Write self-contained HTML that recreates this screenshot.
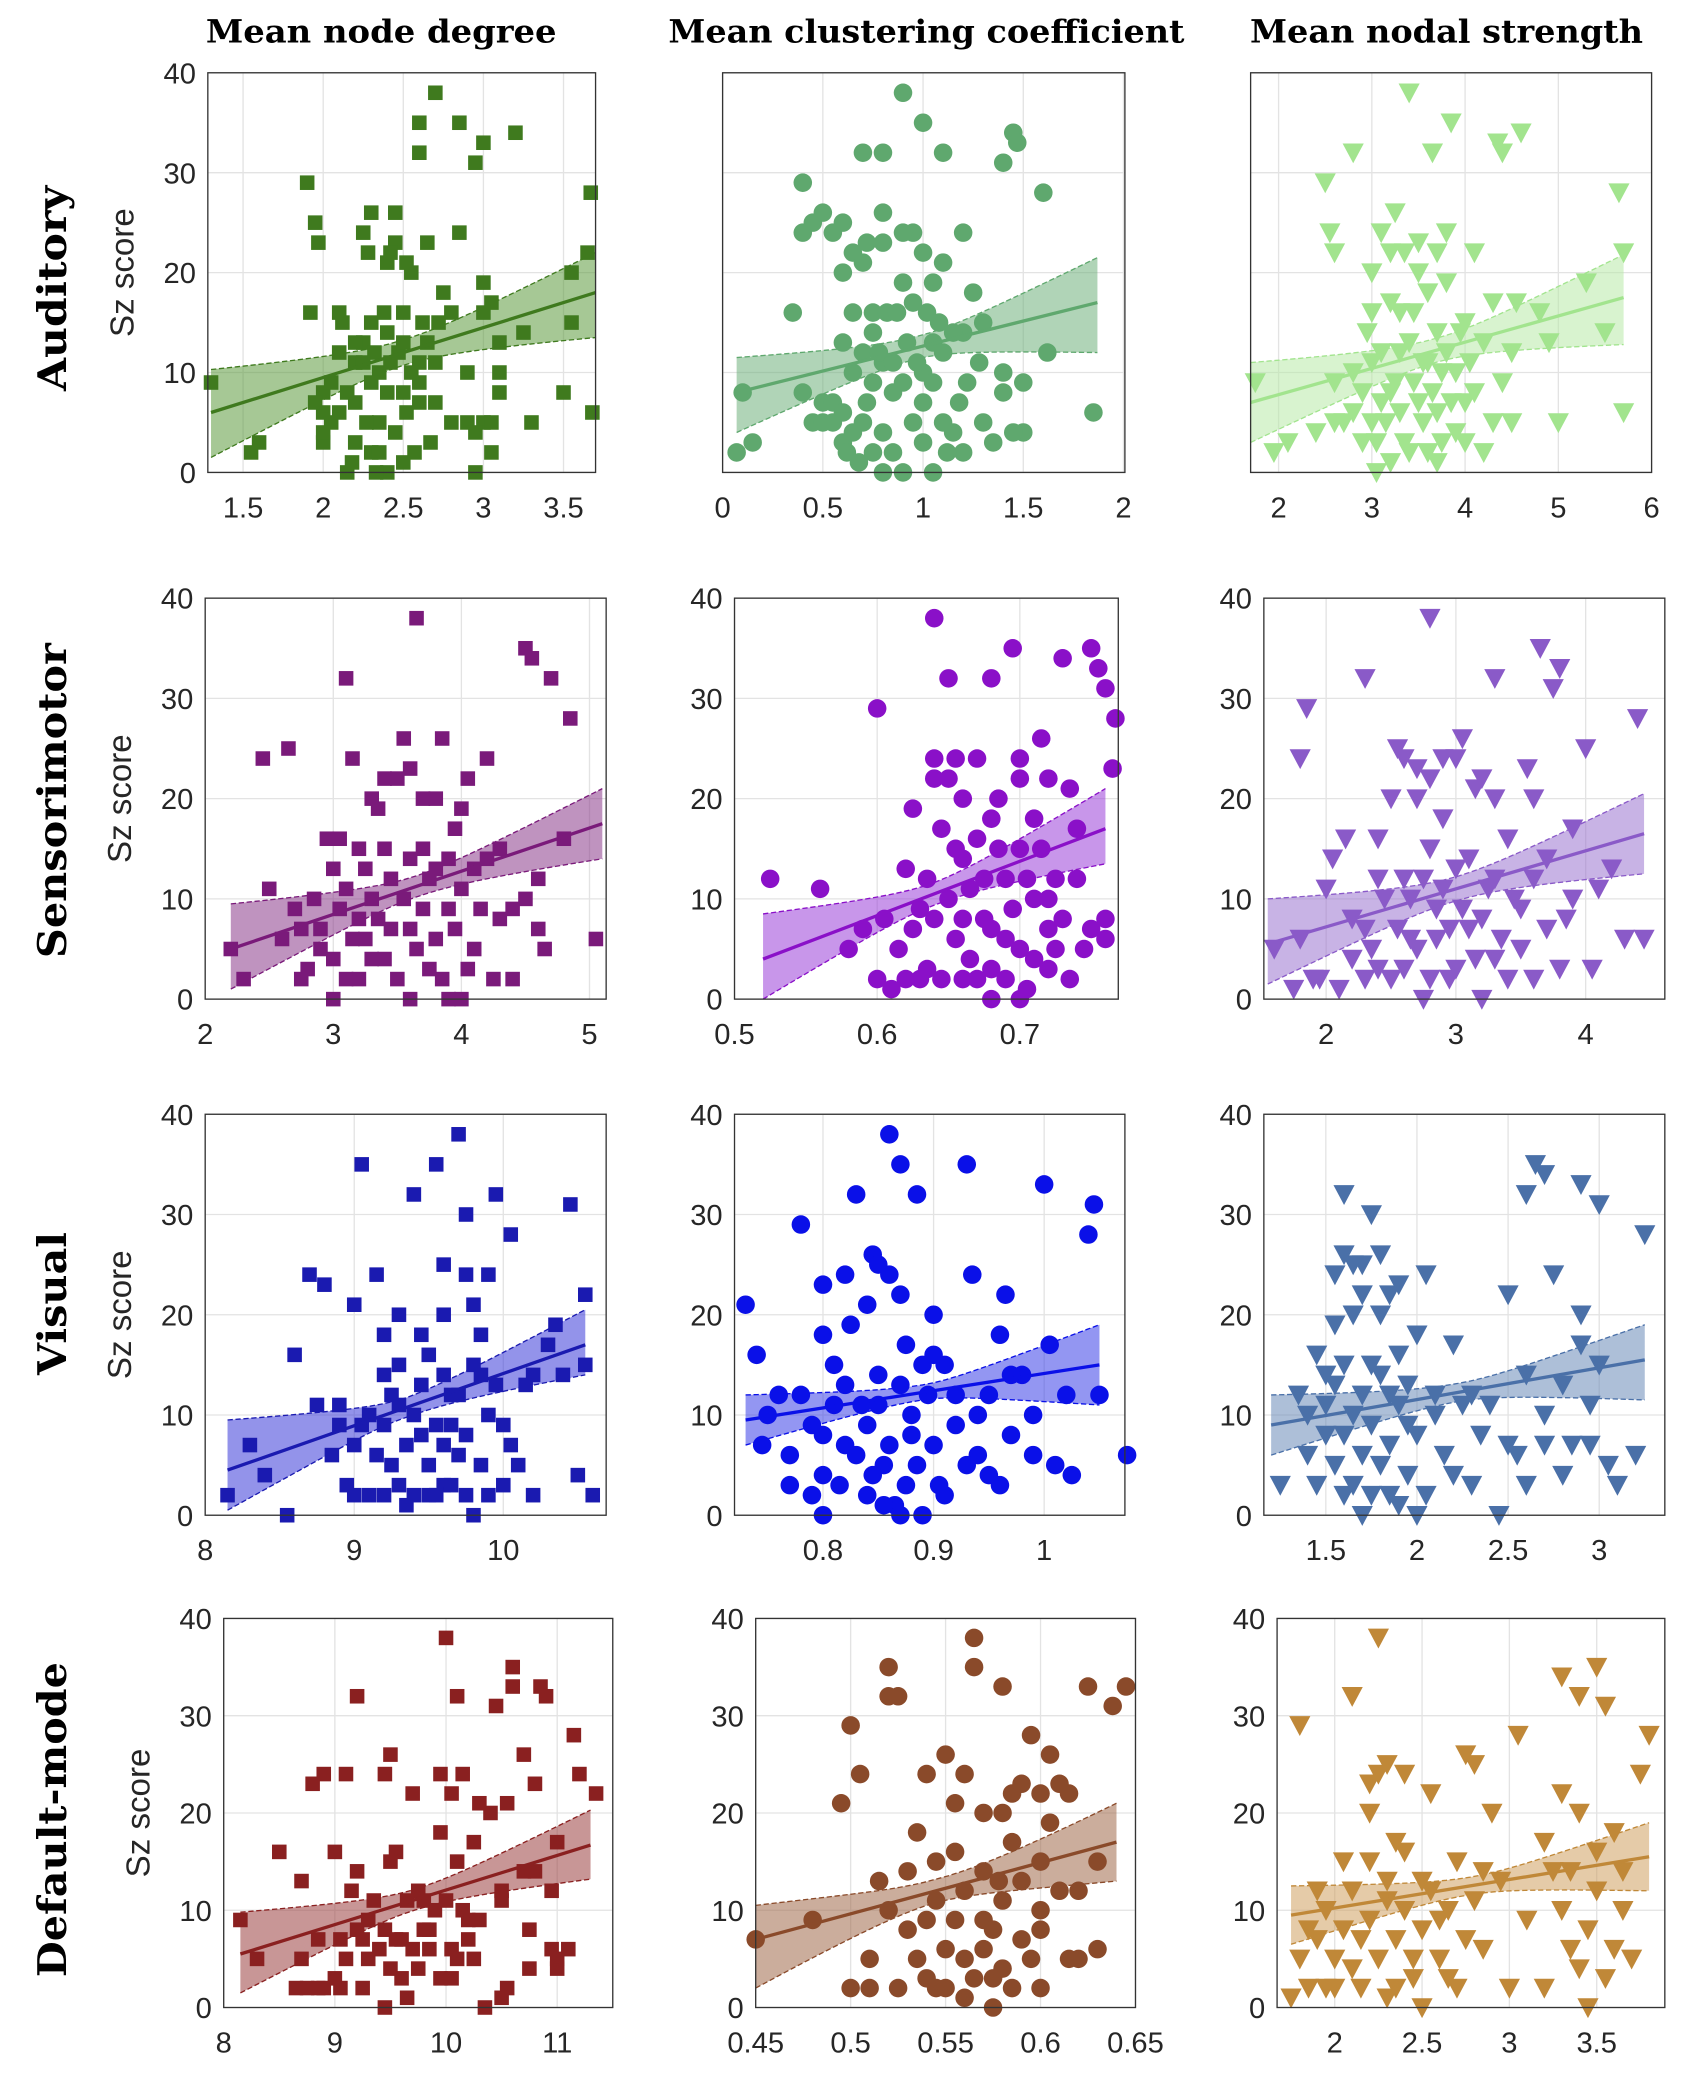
<!DOCTYPE html>
<html><head><meta charset="utf-8"><style>
html,body{margin:0;padding:0;background:#fff;}
svg{display:block;}
.tk{font-family:"Liberation Sans",sans-serif;font-size:22px;fill:#262626;}
.ct{font-family:"DejaVu Serif",serif;font-weight:bold;font-size:24px;fill:#000;}
.rl{font-family:"DejaVu Serif",serif;font-weight:bold;font-size:30px;fill:#000;}
.yl{font-family:"Liberation Sans",sans-serif;font-size:25px;fill:#262626;}
</style></head><body>
<svg id="fig" width="1694" height="2075" viewBox="0 0 1280 1568" xmlns="http://www.w3.org/2000/svg">
<text class="ct" x="288" y="32" text-anchor="middle" textLength="265" lengthAdjust="spacingAndGlyphs">Mean node degree</text>
<text class="ct" x="700" y="32" text-anchor="middle" textLength="390" lengthAdjust="spacingAndGlyphs">Mean clustering coefficient</text>
<text class="ct" x="1093" y="32" text-anchor="middle" textLength="297" lengthAdjust="spacingAndGlyphs">Mean nodal strength</text>
<text class="rl" transform="translate(50,218) rotate(-90)" text-anchor="middle" textLength="155" lengthAdjust="spacingAndGlyphs">Auditory</text>
<text class="rl" transform="translate(50,605) rotate(-90)" text-anchor="middle" textLength="238" lengthAdjust="spacingAndGlyphs">Sensorimotor</text>
<text class="rl" transform="translate(50,985) rotate(-90)" text-anchor="middle" textLength="108" lengthAdjust="spacingAndGlyphs">Visual</text>
<text class="rl" transform="translate(50,1375) rotate(-90)" text-anchor="middle" textLength="238" lengthAdjust="spacingAndGlyphs">Default-mode</text>
</svg>
<script>
// ---- data ----
const r1c1 = [[1.3,9],[1.55,2],[1.6,3],[1.9,29],[1.92,16],[1.95,25],[1.97,23],[2,3],[2,6],[2,8],[2.05,5],[2.1,16],[2.1,12],[2.15,0],[2.2,11],[2.2,7],[2.25,24],[2.25,13],[2.3,2],[2.3,26],[2.3,15],[2.35,10],[2.35,5],[2.4,0],[2.4,14],[2.4,21],[2.45,23],[2.45,26],[2.5,16],[2.5,8],[2.5,1],[2.55,20],[2.6,35],[2.6,32],[2.6,9],[2.65,13],[2.7,38],[2.7,7],[2.75,18],[2.8,16],[2.85,35],[2.85,24],[2.95,0],[2.95,31],[3,33],[3,5],[3,19],[3.05,17],[3.05,2],[3.1,13],[3.2,34],[3.25,14],[3.3,5],[3.5,8],[3.55,15],[3.55,20],[3.65,22],[3.67,28],[3.68,6],[2.2,3],[2.6,11],[2.0,4],[2.9,10],[3.1,10],[1.95,7],[2.05,9],[2.1,6],[2.15,8],[2.2,13],[2.25,11],[2.27,5],[2.3,9],[2.32,12],[2.35,2],[2.38,16],[2.4,8],[2.42,11],[2.45,4],[2.47,12],[2.5,13],[2.52,6],[2.55,10],[2.57,2],[2.6,7],[2.62,15],[2.65,23],[2.67,3],[2.7,11],[2.72,15],[2.8,5],[2.9,5],[2.95,4],[3.0,16],[3.05,5],[3.1,8],[2.12,15],[2.28,22],[2.42,22],[2.52,21],[2.18,1],[2.33,0]];
const r1c2 = [[0.07,2],[0.15,3],[0.1,8],[0.35,16],[0.4,24],[0.4,29],[0.45,25],[0.5,26],[0.5,7],[0.55,24],[0.6,3],[0.6,20],[0.6,13],[0.65,22],[0.65,10],[0.7,21],[0.7,32],[0.7,5],[0.75,14],[0.75,16],[0.8,0],[0.8,23],[0.8,32],[0.8,11],[0.85,2],[0.85,8],[0.9,38],[0.9,19],[0.9,0],[0.95,24],[0.95,17],[1.0,3],[1.0,35],[1.0,10],[1.05,13],[1.05,0],[1.1,32],[1.1,5],[1.15,4],[1.2,24],[1.2,14],[1.25,18],[1.3,15],[1.3,5],[1.4,31],[1.4,10],[1.45,34],[1.47,33],[1.5,4],[1.5,9],[1.6,28],[1.62,12],[1.85,6],[1.2,2],[0.55,5],[1.0,22],[0.65,16],[0.4,8],[0.45,5],[0.5,5],[0.55,7],[0.6,6],[0.62,2],[0.65,4],[0.68,1],[0.7,12],[0.72,7],[0.75,2],[0.75,9],[0.78,12],[0.8,4],[0.82,16],[0.85,11],[0.87,16],[0.9,9],[0.92,13],[0.95,5],[0.97,11],[1.0,7],[1.02,16],[1.05,9],[1.08,15],[1.1,12],[1.12,2],[1.15,14],[1.18,7],[1.22,9],[1.28,11],[1.35,3],[1.4,8],[1.45,4],[0.72,23],[0.8,26],[0.9,24],[1.05,19],[1.1,21],[0.6,25]];
const r1c3 = [[1.75,9],[1.95,2],[2.1,3],[2.5,29],[2.55,24],[2.6,22],[2.7,5],[2.8,32],[2.8,10],[2.9,3],[2.95,14],[3.0,20],[3.05,0],[3.1,24],[3.1,7],[3.2,17],[3.25,26],[3.3,12],[3.35,22],[3.4,38],[3.4,2],[3.45,9],[3.5,23],[3.55,5],[3.6,18],[3.65,32],[3.7,14],[3.7,1],[3.75,10],[3.8,24],[3.85,35],[3.9,4],[4.0,7],[4.1,22],[4.2,13],[4.2,2],[4.3,17],[4.35,33],[4.4,32],[4.5,5],[4.55,17],[4.6,34],[4.8,16],[4.9,13],[5.0,5],[5.3,19],[5.5,14],[5.65,28],[5.7,22],[5.7,6],[3.2,8],[3.6,11],[3.0,5],[4.0,15],[2.4,4],[2.6,5],[2.8,6],[2.9,8],[3.0,11],[3.05,3],[3.1,12],[3.15,5],[3.2,1],[3.25,9],[3.3,6],[3.35,3],[3.4,13],[3.45,16],[3.5,7],[3.55,11],[3.6,2],[3.65,8],[3.7,6],[3.75,3],[3.8,12],[3.85,7],[3.9,10],[3.95,14],[4.0,3],[4.05,11],[4.1,8],[4.3,5],[4.4,9],[4.5,12],[3.3,16],[3.5,20],[3.7,22],[3.0,16],[3.8,19],[2.6,9],[3.2,22]];
const r2c1 = [[2.2,5],[2.3,2],[2.45,24],[2.5,11],[2.65,25],[2.7,9],[2.75,7],[2.8,3],[2.9,5],[2.95,16],[3.0,13],[3.05,9],[3.1,32],[3.1,2],[3.15,24],[3.2,15],[3.25,6],[3.3,10],[3.35,19],[3.4,4],[3.45,12],[3.5,22],[3.55,26],[3.6,7],[3.6,0],[3.65,38],[3.7,15],[3.75,3],[3.8,13],[3.85,26],[3.9,9],[3.9,0],[3.95,17],[4.0,11],[4.05,22],[4.1,5],[4.2,14],[4.25,2],[4.3,8],[4.4,9],[4.5,35],[4.55,34],[4.6,12],[4.65,5],[4.7,32],[4.8,16],[4.85,28],[5.05,6],[3.3,20],[3.7,20],[3.0,0],[4.0,0],[2.6,6],[2.75,2],[2.85,10],[2.9,7],[3.0,4],[3.05,16],[3.1,11],[3.15,6],[3.2,2],[3.25,13],[3.3,4],[3.35,8],[3.4,15],[3.45,7],[3.5,2],[3.55,10],[3.6,14],[3.65,5],[3.7,9],[3.75,12],[3.8,6],[3.85,2],[3.9,14],[3.95,7],[4.0,19],[4.05,3],[4.1,13],[4.15,9],[4.3,15],[4.4,2],[4.5,10],[4.6,7],[3.4,22],[3.6,23],[3.8,20],[4.2,24],[3.2,8]];
const r2c2 = [[0.525,12],[0.56,11],[0.58,5],[0.6,29],[0.605,8],[0.61,1],[0.62,13],[0.625,19],[0.63,9],[0.635,3],[0.64,24],[0.64,38],[0.645,17],[0.65,32],[0.65,22],[0.655,6],[0.66,2],[0.66,14],[0.665,11],[0.67,16],[0.67,24],[0.675,8],[0.68,32],[0.68,3],[0.685,20],[0.69,12],[0.69,6],[0.695,35],[0.7,15],[0.7,22],[0.705,1],[0.71,10],[0.71,18],[0.715,26],[0.72,7],[0.72,3],[0.725,12],[0.73,34],[0.735,21],[0.74,17],[0.745,5],[0.75,35],[0.755,33],[0.76,31],[0.76,8],[0.765,23],[0.767,28],[0.76,6],[0.62,2],[0.68,0],[0.59,7],[0.6,2],[0.615,5],[0.625,7],[0.63,2],[0.635,12],[0.64,8],[0.645,2],[0.65,10],[0.655,15],[0.66,8],[0.665,4],[0.67,2],[0.675,12],[0.68,7],[0.685,15],[0.69,2],[0.695,9],[0.7,5],[0.705,12],[0.71,4],[0.715,15],[0.72,10],[0.725,5],[0.73,8],[0.735,2],[0.74,12],[0.75,7],[0.64,22],[0.66,20],[0.7,24],[0.72,22],[0.68,18],[0.655,24],[0.7,0]];
const r2c3 = [[1.6,5],[1.75,1],[1.8,6],[1.8,24],[1.85,29],[1.95,2],[2.0,11],[2.05,14],[2.15,16],[2.2,4],[2.3,7],[2.3,32],[2.4,3],[2.45,10],[2.5,20],[2.55,25],[2.6,12],[2.65,6],[2.7,23],[2.75,0],[2.8,38],[2.8,15],[2.85,9],[2.9,18],[2.95,2],[3.0,13],[3.05,26],[3.1,7],[3.15,21],[3.2,0],[3.25,11],[3.3,4],[3.3,32],[3.4,16],[3.5,9],[3.55,23],[3.6,2],[3.65,35],[3.7,14],[3.75,31],[3.8,33],[3.85,8],[3.9,17],[4.0,25],[4.05,3],[4.1,11],[4.2,13],[4.3,6],[4.4,28],[4.45,6],[2.9,24],[3.3,20],[1.9,2],[2.1,1],[2.2,8],[2.3,2],[2.35,5],[2.4,12],[2.5,2],[2.55,7],[2.6,3],[2.65,10],[2.7,5],[2.75,12],[2.8,2],[2.85,6],[2.9,11],[2.95,7],[3.0,3],[3.05,9],[3.1,14],[3.15,4],[3.2,8],[3.3,12],[3.35,6],[3.4,2],[3.45,10],[3.5,5],[3.6,12],[3.7,7],[3.8,3],[3.9,10],[2.6,24],[2.7,20],[2.8,22],[3.0,24],[3.2,22],[3.6,20],[2.4,16]];
const r3c1 = [[8.15,2],[8.3,7],[8.4,4],[8.55,0],[8.6,16],[8.7,24],[8.75,11],[8.8,23],[8.85,6],[8.9,9],[8.95,3],[9.0,21],[9.05,35],[9.1,10],[9.1,2],[9.15,24],[9.2,14],[9.25,5],[9.3,20],[9.3,11],[9.35,1],[9.4,32],[9.45,8],[9.5,16],[9.5,2],[9.55,35],[9.6,25],[9.65,12],[9.7,38],[9.7,6],[9.75,30],[9.8,21],[9.8,0],[9.85,14],[9.9,24],[9.95,32],[10.0,9],[10.05,28],[10.1,5],[10.15,13],[10.2,2],[10.3,17],[10.4,14],[10.45,31],[10.5,4],[10.55,22],[10.55,15],[10.6,2],[9.2,18],[9.6,3],[8.9,11],[9.0,7],[9.0,2],[9.05,9],[9.15,6],[9.2,2],[9.2,9],[9.25,12],[9.3,3],[9.35,7],[9.4,10],[9.4,2],[9.45,13],[9.5,5],[9.55,9],[9.55,2],[9.6,7],[9.6,14],[9.65,3],[9.65,9],[9.7,12],[9.75,2],[9.75,8],[9.8,15],[9.85,5],[9.9,10],[9.9,2],[9.95,13],[10.0,3],[10.05,7],[9.3,15],[9.45,18],[9.6,20],[9.75,24],[9.85,18],[10.2,14],[10.35,19]];
const r3c2 = [[0.73,21],[0.74,16],[0.745,7],[0.76,12],[0.77,3],[0.78,29],[0.79,9],[0.8,23],[0.8,4],[0.81,15],[0.82,7],[0.825,19],[0.83,32],[0.835,11],[0.84,2],[0.845,26],[0.85,14],[0.855,5],[0.86,24],[0.86,38],[0.865,1],[0.87,35],[0.875,17],[0.88,8],[0.885,32],[0.89,0],[0.895,12],[0.9,20],[0.905,3],[0.91,15],[0.92,9],[0.93,35],[0.935,24],[0.94,6],[0.95,12],[0.96,3],[0.965,22],[0.97,8],[0.98,14],[0.99,10],[1.0,33],[1.005,17],[1.01,5],[1.02,12],[1.025,4],[1.04,28],[1.045,31],[1.05,12],[1.075,6],[0.96,18],[0.75,10],[0.77,6],[0.78,12],[0.79,2],[0.8,8],[0.81,11],[0.815,3],[0.82,13],[0.83,6],[0.84,9],[0.845,4],[0.85,11],[0.855,1],[0.86,7],[0.87,13],[0.875,3],[0.88,10],[0.885,5],[0.89,15],[0.9,7],[0.91,2],[0.92,12],[0.93,5],[0.94,10],[0.95,4],[0.97,14],[0.99,6],[0.8,18],[0.82,24],[0.84,21],[0.85,25],[0.87,22],[0.9,16],[0.8,0],[0.87,0]];
const r3c3 = [[1.25,3],[1.35,12],[1.4,6],[1.45,16],[1.5,8],[1.55,19],[1.6,32],[1.6,2],[1.65,25],[1.65,10],[1.7,22],[1.7,0],[1.75,15],[1.8,26],[1.8,5],[1.85,12],[1.9,23],[1.9,1],[1.95,9],[2.0,18],[2.0,0],[2.05,24],[2.1,12],[2.15,6],[2.2,17],[2.25,11],[2.3,3],[2.35,8],[2.4,11],[2.45,0],[2.5,22],[2.55,6],[2.6,14],[2.6,32],[2.65,35],[2.7,34],[2.7,10],[2.75,24],[2.8,13],[2.85,7],[2.9,33],[2.9,17],[2.95,11],[3.0,31],[3.05,5],[3.1,3],[3.25,28],[3.2,6],[1.5,14],[1.75,30],[2.9,20],[1.4,10],[1.45,3],[1.5,11],[1.55,5],[1.55,13],[1.6,8],[1.6,15],[1.65,3],[1.65,20],[1.7,12],[1.7,6],[1.75,9],[1.75,2],[1.8,14],[1.8,20],[1.85,7],[1.85,2],[1.9,11],[1.9,16],[1.95,4],[1.95,13],[2.0,8],[2.05,2],[2.1,10],[2.2,4],[2.3,12],[2.5,7],[2.6,3],[2.7,7],[2.8,4],[2.95,7],[3.0,15],[1.55,24],[1.7,25],[1.85,22],[1.6,26]];
const r4c1 = [[8.15,9],[8.3,5],[8.5,16],[8.65,2],[8.7,13],[8.8,23],[8.85,7],[8.9,24],[8.9,2],[9.0,16],[9.05,7],[9.1,5],[9.1,24],[9.2,32],[9.2,14],[9.25,2],[9.3,9],[9.35,11],[9.45,24],[9.45,0],[9.5,26],[9.55,7],[9.55,16],[9.6,3],[9.7,22],[9.75,12],[9.8,8],[9.85,6],[9.95,24],[9.95,18],[10.0,38],[10.05,3],[10.05,22],[10.1,15],[10.1,32],[10.15,24],[10.2,9],[10.25,17],[10.3,21],[10.35,0],[10.4,20],[10.45,31],[10.5,1],[10.5,11],[10.55,21],[10.6,35],[10.6,33],[10.7,26],[10.75,4],[10.8,23],[10.85,33],[10.9,32],[10.95,12],[11.0,5],[11.0,17],[11.1,6],[11.15,28],[11.2,24],[11.35,22],[9.65,1],[8.7,5],[8.75,2],[8.85,2],[9.0,3],[9.05,2],[9.15,12],[9.2,8],[9.25,7],[9.3,5],[9.4,6],[9.45,8],[9.5,15],[9.5,4],[9.6,7],[9.65,11],[9.7,6],[9.75,4],[9.8,11],[9.85,8],[9.9,10],[9.95,3],[10.0,11],[10.05,6],[10.1,5],[10.15,10],[10.2,7],[10.25,5],[10.3,9],[10.5,12],[10.55,2],[10.75,8],[10.8,14],[10.95,6],[11.0,4],[10.7,14]];
const r4c2 = [[0.45,7],[0.48,9],[0.495,21],[0.5,29],[0.505,24],[0.51,2],[0.515,13],[0.52,35],[0.52,32],[0.525,32],[0.53,8],[0.535,18],[0.54,3],[0.54,24],[0.545,11],[0.55,26],[0.55,6],[0.555,16],[0.56,1],[0.56,24],[0.565,38],[0.565,35],[0.57,9],[0.57,20],[0.575,3],[0.578,13],[0.58,33],[0.585,22],[0.59,7],[0.595,28],[0.6,10],[0.6,15],[0.605,26],[0.61,23],[0.615,5],[0.62,12],[0.625,33],[0.63,6],[0.638,31],[0.645,33],[0.575,0],[0.545,2],[0.6,2],[0.585,17],[0.5,2],[0.51,5],[0.52,10],[0.525,2],[0.53,14],[0.535,5],[0.54,9],[0.545,15],[0.55,2],[0.555,9],[0.56,12],[0.56,5],[0.565,3],[0.57,14],[0.57,6],[0.575,8],[0.58,4],[0.58,11],[0.585,2],[0.59,13],[0.595,5],[0.6,8],[0.605,19],[0.61,12],[0.615,22],[0.62,5],[0.63,15],[0.58,20],[0.555,21],[0.59,23],[0.6,22]];
const r4c3 = [[1.75,1],[1.8,29],[1.85,8],[1.9,12],[1.95,2],[2.0,5],[2.05,15],[2.1,32],[2.15,7],[2.2,20],[2.25,24],[2.25,38],[2.3,11],[2.3,1],[2.35,17],[2.4,24],[2.45,5],[2.5,13],[2.5,0],[2.55,22],[2.6,9],[2.65,3],[2.7,15],[2.75,26],[2.8,11],[2.85,6],[2.9,20],[2.95,13],[3.0,2],[3.05,28],[3.1,9],[3.2,17],[3.25,14],[3.3,34],[3.35,6],[3.4,32],[3.45,0],[3.5,35],[3.55,31],[3.6,18],[3.65,10],[3.7,5],[3.75,24],[3.8,28],[3.4,20],[2.8,25],[1.8,5],[1.85,2],[1.9,7],[1.95,10],[2.0,2],[2.05,8],[2.1,4],[2.1,12],[2.15,2],[2.2,9],[2.2,15],[2.25,5],[2.3,13],[2.35,7],[2.35,2],[2.4,10],[2.4,16],[2.45,3],[2.5,8],[2.55,12],[2.6,5],[2.65,10],[2.7,2],[2.75,7],[2.85,14],[3.2,2],[3.3,10],[3.35,14],[3.4,4],[3.45,8],[3.5,12],[3.55,3],[3.6,6],[3.65,14],[2.3,25],[2.2,23],[3.3,22],[3.5,16]];
// fit: [x0, x1, line y0, line y1, lower y0, upper y0, lower y1, upper y1]
const fit_r1c1 = [1.3,3.7,6,18,1.5,10.3,13.5,22];
const fit_r1c2 = [0.07,1.87,8,17,4,11.5,12,21.5];
const fit_r1c3 = [1.7,5.7,7,17.5,3,11,12.8,21.8];
const fit_r2c1 = [2.2,5.1,5,17.5,1,9.5,14,21];
const fit_r2c2 = [0.52,0.76,4,17,0,8.5,13.5,21];
const fit_r2c3 = [1.55,4.45,5.5,16.5,1.5,10,12.5,20.5];
const fit_r3c1 = [8.15,10.55,4.5,17,0.5,9.5,14,20.5];
const fit_r3c2 = [0.73,1.05,9.5,15,7,12,11,19];
const fit_r3c3 = [1.2,3.25,9,15.5,6,12,11.5,19];
const fit_r4c1 = [8.15,11.3,5.5,16.7,1.5,9.8,13.2,20.3];
const fit_r4c2 = [0.45,0.64,7,17,2,10.5,13,21];
const fit_r4c3 = [1.75,3.8,9.5,15.5,6.5,12.5,12,19];
const xt_r1c1 = [1.5,2,2.5,3,3.5], xt_r1c2=[0,0.5,1,1.5,2], xt_r1c3=[2,3,4,5,6];
const xt_r2c1 = [2,3,4,5], xt_r2c2=[0.5,0.6,0.7], xt_r2c3=[2,3,4];
const xt_r3c1 = [8,9,10], xt_r3c2=[0.8,0.9,1], xt_r3c3=[1.5,2,2.5,3];
const xt_r4c1 = [8,9,10,11], xt_r4c2=[0.45,0.5,0.55,0.6,0.65], xt_r4c3=[2,2.5,3,3.5];
const yTicks = [0,10,20,30,40];

// ---- layout ----
const panels = [
 {n:'auditory-degree',d:r1c1,f:fit_r1c1,xt:xt_r1c1,b:[157,450,55,357],x:[1.28,3.70],m:'s',c:'#3f7a1e',bc:'#5c9a3e',yl:true,yt:true},
 {n:'auditory-clustering',d:r1c2,f:fit_r1c2,xt:xt_r1c2,b:[546,850,55,357],x:[0,2.007],m:'o',c:'#5fa86e',bc:'#6fb07c',yl:false,yt:false},
 {n:'auditory-strength',d:r1c3,f:fit_r1c3,xt:xt_r1c3,b:[945,1248,55,357],x:[1.70,6],m:'v',c:'#a2e48e',bc:'#b8eaa8',yl:false,yt:false},
 {n:'sensorimotor-degree',d:r2c1,f:fit_r2c1,xt:xt_r2c1,b:[155,458,452,755],x:[2,5.13],m:'s',c:'#7a1a7a',bc:'#8a3a8a',yl:true,yt:true},
 {n:'sensorimotor-clustering',d:r2c2,f:fit_r2c2,xt:xt_r2c2,b:[555,845,452,755],x:[0.5,0.769],m:'o',c:'#8a10c8',bc:'#9a40d8',yl:false,yt:true},
 {n:'sensorimotor-strength',d:r2c3,f:fit_r2c3,xt:xt_r2c3,b:[955,1258,452,755],x:[1.52,4.61],m:'v',c:'#8a5ac8',bc:'#9a74d0',yl:false,yt:true},
 {n:'visual-degree',d:r3c1,f:fit_r3c1,xt:xt_r3c1,b:[155,458,842,1145],x:[8,10.69],m:'s',c:'#1a1ab0',bc:'#3a3ad8',yl:true,yt:true},
 {n:'visual-clustering',d:r3c2,f:fit_r3c2,xt:xt_r3c2,b:[555,850,842,1145],x:[0.72,1.073],m:'o',c:'#0a10e8',bc:'#3a40e8',yl:false,yt:true},
 {n:'visual-strength',d:r3c3,f:fit_r3c3,xt:xt_r3c3,b:[955,1258,842,1145],x:[1.16,3.36],m:'v',c:'#4a70a8',bc:'#6a8ab8',yl:false,yt:true},
 {n:'default-degree',d:r4c1,f:fit_r4c1,xt:xt_r4c1,b:[169,463,1223,1517],x:[8,11.5],m:'s',c:'#8a2020',bc:'#9a4040',yl:true,yt:true},
 {n:'default-clustering',d:r4c2,f:fit_r4c2,xt:xt_r4c2,b:[571,858,1223,1517],x:[0.45,0.65],m:'o',c:'#8a4a2a',bc:'#a06a4a',yl:false,yt:true},
 {n:'default-strength',d:r4c3,f:fit_r4c3,xt:xt_r4c3,b:[965,1258,1223,1517],x:[1.67,3.89],m:'v',c:'#c08838',bc:'#d0a060',yl:false,yt:true}
];
const svg = document.getElementById('fig');
const NS = 'http://www.w3.org/2000/svg';
function mk(tag, attrs, parent){const e=document.createElementNS(NS,tag);for(const k in attrs)e.setAttribute(k,attrs[k]);(parent||svg).appendChild(e);return e;}

panels.forEach(p=>{
  const [L,R,T,B]=p.b;
  const sx=v=>L+(v-p.x[0])/(p.x[1]-p.x[0])*(R-L);
  const sy=v=>B-v/40*(B-T);
  const g=mk('g',{});
  
  
  mk('rect',{x:L,y:T,width:R-L,height:B-T,fill:'#fff'},g);
  p.xt.forEach(t=>{
    mk('line',{x1:sx(t),x2:sx(t),y1:T,y2:B,stroke:'#e3e3e3','stroke-width':1},g);
    const tx=mk('text',{x:sx(t),y:B+34,class:'tk','text-anchor':'middle'},g);
    
    
    tx.textContent=t;
  });
  yTicks.forEach(t=>{
    mk('line',{x1:L,x2:R,y1:sy(t),y2:sy(t),stroke:'#e3e3e3','stroke-width':1},g);
    if(p.yt){
      const tx=mk('text',{x:L-9,y:sy(t)+8,class:'tk','text-anchor':'end'},g);
      
      
      tx.textContent=t;
    }
  });
  const f=p.f, N=30, up=[], lo=[];
  const xc=(f[0]+f[1])/2;
  const hl=(f[5]-f[4])/2, hr=(f[7]-f[6])/2, hm=Math.min(hl,hr)*0.3;
  for(let i=0;i<=N;i++){
    const x=f[0]+(f[1]-f[0])*i/N;
    const yl=f[2]+(f[3]-f[2])*i/N;
    const u=(x-xc)/((f[1]-f[0])/2);
    const h=u<0?Math.sqrt(hm*hm+(hl*hl-hm*hm)*u*u):Math.sqrt(hm*hm+(hr*hr-hm*hm)*u*u);
    const cl=(f[4]+f[5])/2*(1-i/N)+(f[6]+f[7])/2*(i/N);
    up.push([sx(x),sy(yl+h+(cl-yl)*Math.abs(u))]);lo.push([sx(x),sy(yl-h+(cl-yl)*Math.abs(u))]);
  }
  const band=mk('polygon',{points:up.concat(lo.slice().reverse()).map(q=>q.join(',')).join(' '),fill:p.bc,'fill-opacity':0.55},g);
  
  
  mk('polyline',{points:up.map(q=>q.join(',')).join(' '),fill:'none',stroke:p.c,'stroke-width':1,'stroke-dasharray':'4,2'},g);
  mk('polyline',{points:lo.map(q=>q.join(',')).join(' '),fill:'none',stroke:p.c,'stroke-width':1,'stroke-dasharray':'4,2'},g);
  p.d.forEach(([x,y])=>{
    const X=sx(x),Y=sy(y);let e;
    if(p.m==='s') e=mk('rect',{x:X-5.5,y:Y-5.5,width:11,height:11,fill:p.c},g);
    else if(p.m==='o') e=mk('circle',{cx:X,cy:Y,r:7,fill:p.c},g);
    else e=mk('polygon',{points:`${X-8},${Y-7} ${X+8},${Y-7} ${X},${Y+8}`,fill:p.c},g);
    
    
  });
  const fl=mk('line',{x1:sx(f[0]),y1:sy(f[2]),x2:sx(f[1]),y2:sy(f[3]),stroke:p.c,'stroke-width':2.5},g);
  
  
  mk('rect',{x:L,y:T,width:R-L,height:B-T,fill:'none',stroke:'#333','stroke-width':1},g);
  if(p.yl){
    const t=mk('text',{class:'yl','text-anchor':'middle',transform:`translate(${L-56},${(T+B)/2}) rotate(-90)`},g);
    
    
    t.textContent='Sz score';
  }
});
</script>
</body></html>
